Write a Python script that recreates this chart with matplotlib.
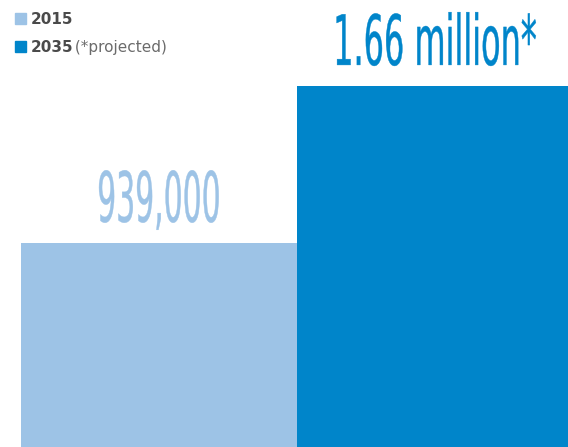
import matplotlib.pyplot as plt
from matplotlib.patches import Rectangle
from matplotlib.patheffects import AbstractPathEffect
from matplotlib.transforms import Affine2D, Bbox

years = ["2015", "2035"]
values = [939000, 1660000]
labels = ["939,000", "1.66 million*"]
colors = ["#9dc3e6", "#0085ca"]
squeeze = [0.43, 0.46]  # horizontal squeeze to fake a condensed face


class Squeeze(AbstractPathEffect):
    """Scale text horizontally about its anchor point."""
    def __init__(self, text, sx, lw=0.3):
        super().__init__()
        self.text = text
        self.sx = sx
        self.lw = lw

    def draw_path(self, renderer, gc, tpath, affine, rgbFace=None):
        cx = self.text.get_transform().transform(self.text.get_position())[0]
        t = affine + Affine2D().translate(-cx, 0).scale(self.sx, 1).translate(cx, 0)
        gc2 = renderer.new_gc()
        gc2.copy_properties(gc)
        gc2.set_linewidth(self.lw)
        gc2.set_foreground(rgbFace)
        renderer.draw_path(gc2, tpath, t, rgbFace)
        gc2.restore()


def squeezed_extent(text, sx):
    # report the narrowed box so layout checks see the drawn size
    orig = text.get_window_extent

    def extent(renderer=None, dpi=None):
        bb = orig(renderer, dpi)
        cx = (bb.x0 + bb.x1) / 2
        half = bb.width * sx / 2
        return Bbox.from_extents(cx - half, bb.y0, cx + half, bb.y1)
    text.get_window_extent = extent


W, H = 568, 447
fig = plt.figure(figsize=(W / 100, H / 100), dpi=100)
# axes a touch wider than the figure so the two bars split at x=297
ax = fig.add_axes([21 / W, 0, 552 / W, 1])

x = range(len(values))
ax.bar(x, values, width=1.0, color=colors, align="center")
ax.set_xlim(-0.5, 1.5)
ax.set_ylim(0, 2.055e6)
ax.axis("off")

for i, (v, lab) in enumerate(zip(values, labels)):
    t = ax.annotate(lab, (i, v), xytext=(0, 21), textcoords="offset pixels",
                    ha="center", va="baseline", fontsize=50,
                    color=colors[i], family="DejaVu Sans")
    t.set_path_effects([Squeeze(t, squeeze[i])])
    squeezed_extent(t, squeeze[i])

# legend, drawn by hand so the label can mix weights
rows = [(24, years[0], ""), (52, years[1], " (*projected)")]
for (base, yr, note), c in zip(rows, colors):
    fig.patches.append(Rectangle((15 / W, 1 - base / H), 11 / W, 11 / H,
                                 transform=fig.transFigure, color=c))
    fig.text(31 / W, 1 - base / H, yr, fontsize=11, fontweight="bold",
             color="#4a4a4a", va="baseline")
    if note:
        fig.text(70 / W, 1 - base / H, note, fontsize=11, color="#6b6b6b",
                 va="baseline")

fig.savefig("out.png", dpi=100)
